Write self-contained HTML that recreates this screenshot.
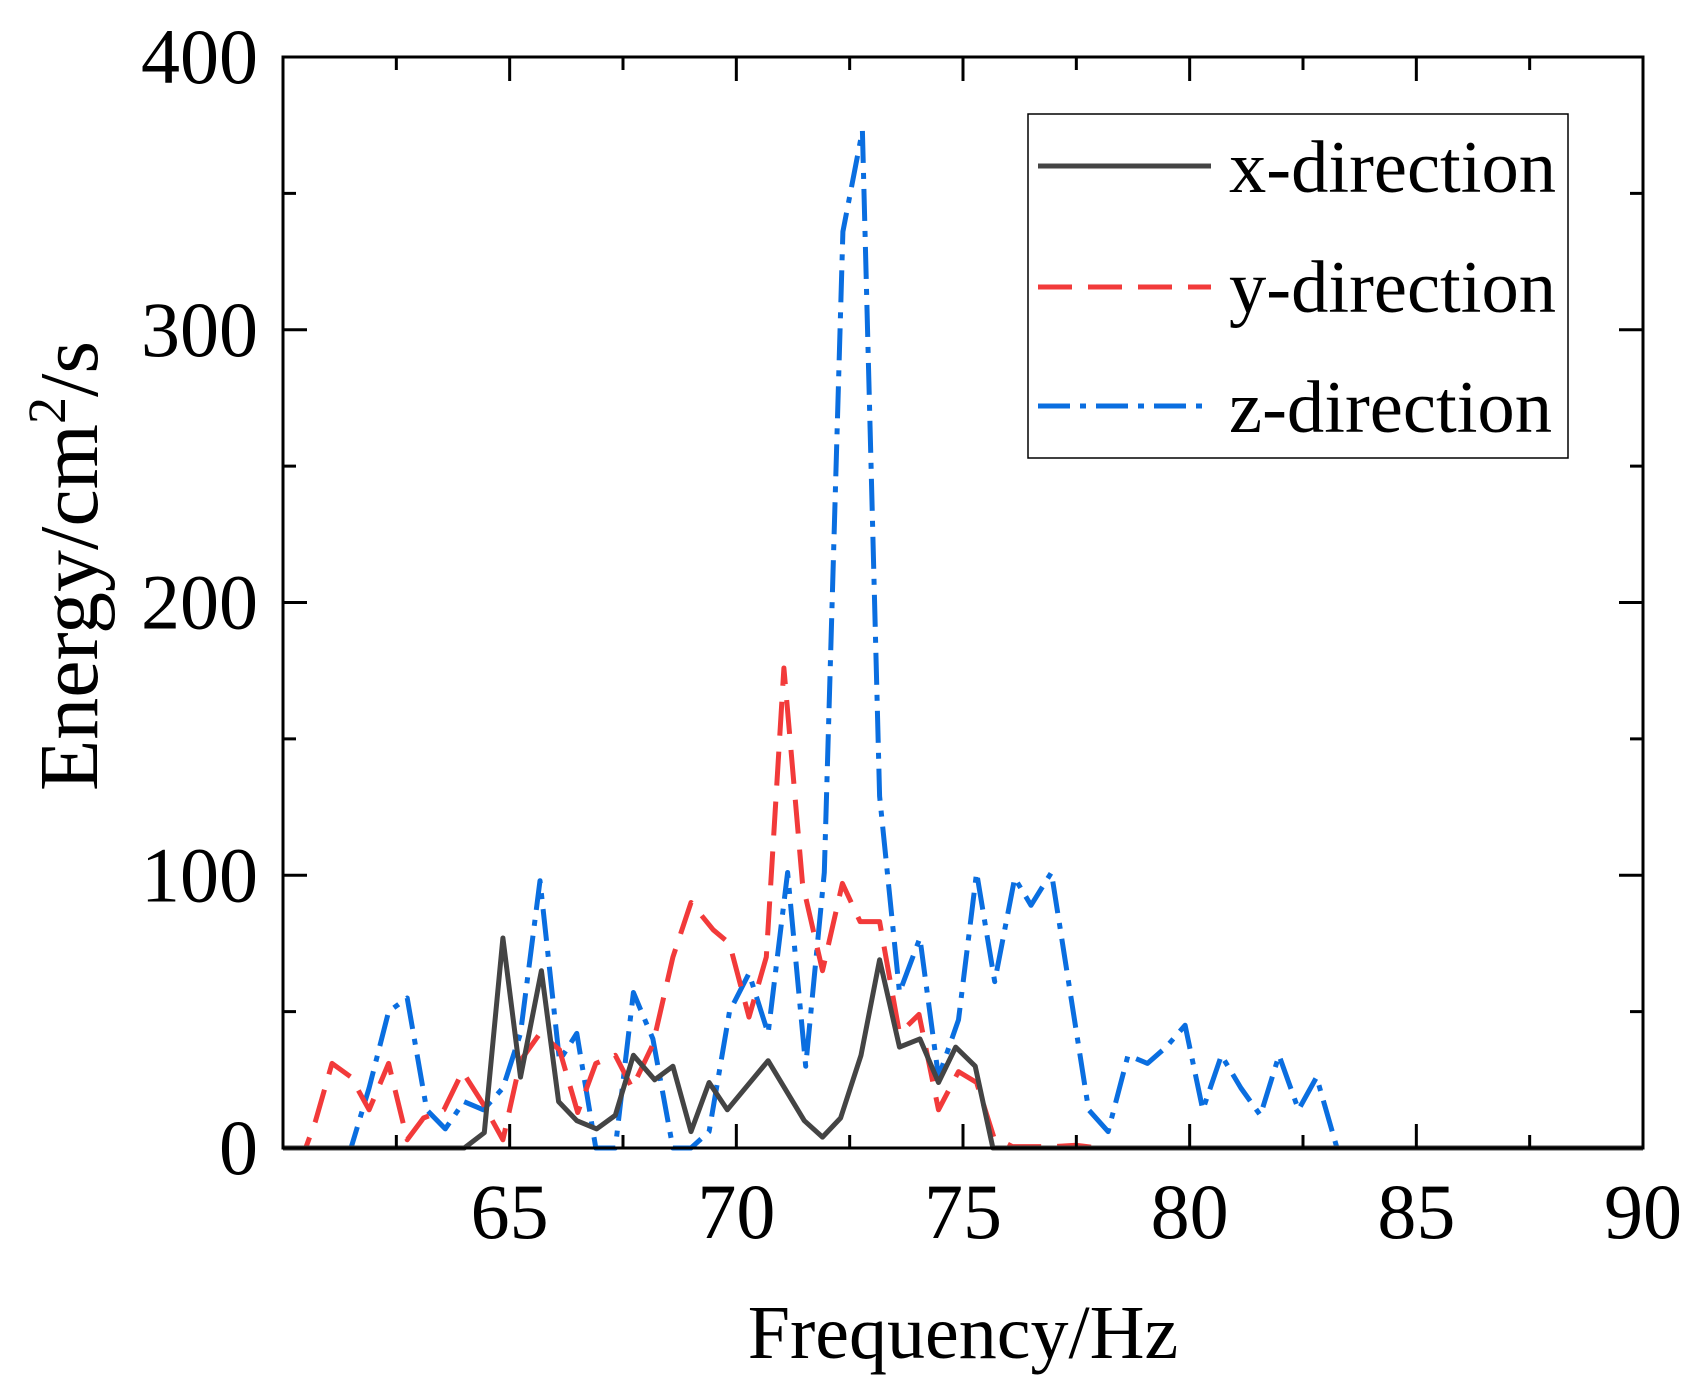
<!DOCTYPE html>
<html><head><meta charset="utf-8"><style>
html,body{margin:0;padding:0;background:#fff;}
svg{display:block;}
text{font-family:"Liberation Serif",serif;fill:#000;}
</style></head><body>
<svg id="chart" width="1708" height="1400" viewBox="0 0 1708 1400" xmlns="http://www.w3.org/2000/svg">
<g id="marks"></g>
<g id="axes"></g>
<g id="legend">
  <rect x="1028" y="114" width="540" height="344" fill="#fff" stroke="#000" stroke-width="1.5"/>
  <line x1="1038" y1="166" x2="1211" y2="166" stroke="#444" stroke-width="5"/>
  <text x="1229" y="192" font-size="74" textLength="327" lengthAdjust="spacingAndGlyphs">x-direction</text>
  <line x1="1038" y1="287" x2="1211" y2="287" stroke="#f23a3a" stroke-width="5" stroke-dasharray="34,16"/>
  <text x="1229" y="312" font-size="74" textLength="327" lengthAdjust="spacingAndGlyphs">y-direction</text>
  <line x1="1038" y1="406" x2="1211" y2="406" stroke="#0a6ee0" stroke-width="5" stroke-dasharray="32,10,6,10"/>
  <text x="1229" y="432" font-size="74" textLength="323" lengthAdjust="spacingAndGlyphs">z-direction</text>
</g>
</svg>
<script>
const xTicks=[65,70,75,80,85,90];
const yTicks=[0,100,200,300,400];
const xFreq=[60,64.0,64.44,64.85,65.24,65.7,66.08,66.48,66.92,67.33,67.73,68.2,68.6,69.0,69.4,69.8,70.7,71.5,71.9,72.3,72.75,73.16,73.6,74.05,74.46,74.84,75.27,75.66,90];
const xVals=[0,0,5.6,77,26,65,17,10,7,12,34,25,30,6,24,14,32,10,4,11,34,69,37,40,24,37,30,0,0];
const yFreq=[60,60.5,60.72,61.08,61.5,61.9,62.33,62.74,63.1,63.55,63.96,64.42,64.85,65.24,65.67,66.1,66.5,66.9,67.33,67.7,68.16,68.6,69.0,69.49,69.85,70.28,70.66,71.05,71.46,71.9,72.34,72.73,73.16,73.6,74.03,74.46,74.9,75.3,75.68,76.09,77.0,77.5,78.0,90];
const yVals=[0,0,10,31,26,14,31,3,11,14,28,16,3,32,42,36,13,31,34,22,38,70,90,80,75,48,70,176,97,65,97,83,83,42,49,14,28,24,4,0.5,0.5,1,0,0];
const zFreq=[60,61.5,61.9,62.33,62.74,63.17,63.58,63.99,64.42,64.85,65.24,65.67,66.1,66.48,66.9,67.33,67.73,68.16,68.6,69.0,69.4,69.85,70.28,70.7,71.13,71.53,71.94,72.35,72.78,73.16,73.6,74.05,74.46,74.9,75.3,75.7,76.14,76.5,76.95,77.77,78.2,78.64,79.07,79.48,79.9,80.29,80.7,81.13,81.56,81.97,82.4,82.8,83.25,90];
const zVals=[0,0,22,50,55,14,7,17,14,22,42,98,32,42,0,0,57,40,0,0,6,50,64,42,101,30,101,336,373,129,57,77,26,47,101,61,99,89,101,14,6,34,31,37,45,14,34,22,12,34,14,26,0,0];

const L=283,R=1643,T=57,B=1148;
const xs=v=>L+(v-60)/30*(R-L);
const ys=v=>B-v/400*(B-T);
const NS="http://www.w3.org/2000/svg";
const marks=document.getElementById('marks');
const axes=document.getElementById('axes');
function mk(tag,attrs,parent){const e=document.createElementNS(NS,tag);for(const k in attrs)e.setAttribute(k,attrs[k]);parent.appendChild(e);return e;}
function series(f,v,color,dash,name){
  const d=f.map((x,i)=>(i?'L':'M')+xs(x).toFixed(1)+','+ys(v[i]).toFixed(1)).join(' ');
  const p=mk('path',{d:d,fill:'none',stroke:color,'stroke-width':5,'stroke-linejoin':'round','stroke-dasharray':dash},marks);
  
  
}
series(zFreq,zVals,'#0a6ee0','32,10,6,10','z-direction-line');
series(yFreq,yVals,'#f23a3a','34,16','y-direction-line');
series(xFreq,xVals,'#444','none','x-direction-line');

const frame=mk('rect',{x:L,y:T,width:R-L,height:B-T,fill:'none',stroke:'#000','stroke-width':3},axes);


for(let v=62.5;v<=90;v+=2.5){
  const x=xs(v);const len=(v%5===0)?24:13;
  mk('line',{x1:x,y1:B,x2:x,y2:B-len,stroke:'#000','stroke-width':3},axes);
  mk('line',{x1:x,y1:T,x2:x,y2:T+len,stroke:'#000','stroke-width':3},axes);
}
for(let v=50;v<400;v+=50){
  const y=ys(v);const len=(v%100===0)?24:13;
  mk('line',{x1:L,y1:y,x2:L+len,y2:y,stroke:'#000','stroke-width':3},axes);
  mk('line',{x1:R,y1:y,x2:R-len,y2:y,stroke:'#000','stroke-width':3},axes);
}
xTicks.forEach(v=>{
  const t=mk('text',{x:xs(v),y:1238,'font-size':78,'text-anchor':'middle'},axes);
  t.textContent=v;
  
  
});
yTicks.forEach(v=>{
  const t=mk('text',{x:258,y:ys(v)+26,'font-size':78,'text-anchor':'end'},axes);
  t.textContent=v;
  
  
});
const xt=mk('text',{x:963,y:1358,'font-size':76,'text-anchor':'middle'},axes);
xt.textContent='Frequency/Hz';


const yt=mk('text',{x:0,y:0,'font-size':84,'text-anchor':'middle',transform:'translate(97,566) rotate(-90)'},axes);
yt.innerHTML='Energy/cm<tspan dy="-32" font-size="54">2</tspan><tspan dy="32">/s</tspan>';


</script>
</body></html>
